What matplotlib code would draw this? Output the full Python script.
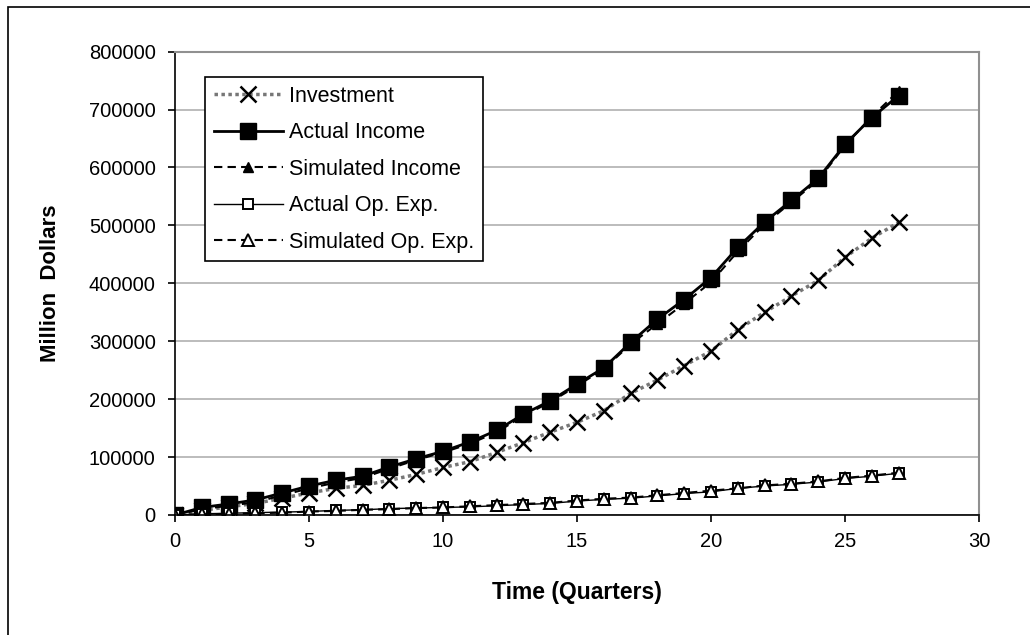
import numpy as np
import matplotlib.pyplot as plt
from matplotlib.patches import Rectangle

plt.rcParams['font.family'] = ['Liberation Sans', 'DejaVu Sans']

quarters = list(range(28))

investment = [0, 8000, 14000, 20000, 29000, 38000, 46000, 51000, 60000, 70000,
              82000, 92000, 108000, 125000, 143000, 160000, 180000, 210000,
              233000, 258000, 283000, 320000, 350000, 378000, 405000, 445000,
              478000, 505000]
actual_income = [0, 13000, 19000, 26000, 38000, 50000, 60000, 67000, 83000, 97000,
                 110000, 126000, 146000, 174000, 197000, 226000, 254000, 298000,
                 338000, 372000, 410000, 462000, 506000, 543000, 581000, 640000,
                 686000, 724000]
sim_income = [0, 10000, 16000, 22000, 34000, 46000, 56000, 64000, 80000, 95000,
              108000, 123000, 143000, 171000, 195000, 223000, 252000, 295000,
              330000, 365000, 402000, 455000, 502000, 540000, 578000, 638000,
              688000, 732000]
actual_opexp = [0, 2000, 3000, 4000, 5000, 6000, 8000, 9000, 11000, 12000,
                13000, 14000, 16000, 18000, 20000, 24000, 27000, 29000, 33000,
                37000, 40000, 46000, 50000, 53000, 57000, 63000, 67000, 72000]
sim_opexp = [0, 1000, 2000, 3000, 4000, 6000, 7000, 9000, 10000, 12000,
             13000, 15000, 17000, 19000, 21000, 25000, 28000, 30000, 34000,
             38000, 42000, 46000, 51000, 54000, 58000, 64000, 68000, 73000]

fig = plt.figure(figsize=(10.3, 6.35), dpi=100)
ax = fig.add_axes([0.170, 0.189, 0.7805, 0.7297])

# outer chart border
fig.patches.append(Rectangle((8 / 1030, -0.1), 1.2, (635 - 7) / 635 + 0.1,
                             transform=fig.transFigure, fill=False,
                             edgecolor='black', linewidth=1.2))

ax.plot(quarters, investment, color='#777777', lw=2.5, ls=(0, (1, 1)), marker='x',
        ms=11, mec='black', mew=1.8, label='Investment')
ax.plot(quarters, actual_income, color='black', lw=2.0, marker='s', ms=11,
        mfc='black', mec='black', label='Actual Income')
ax.plot(quarters, sim_income, color='black', lw=1.5, ls=(0, (4, 2.5)), marker='^',
        ms=7, mfc='black', mec='black', label='Simulated Income')
ax.plot(quarters, actual_opexp, color='black', lw=1.0, marker='s', ms=7,
        mfc='white', mec='black', mew=1.4, label='Actual Op. Exp.')
ax.plot(quarters, sim_opexp, color='black', lw=1.5, ls=(0, (4, 2.5)), marker='^',
        ms=9, mfc='white', mec='black', mew=1.4, label='Simulated Op. Exp.')

ax.set_xlim(0, 30)
ax.set_ylim(0, 800000)
ax.set_xticks(range(0, 31, 5))
ax.set_yticks(range(0, 800001, 100000))
ax.yaxis.grid(True, color='#b0b0b0', lw=1.2)
ax.set_axisbelow(True)
ax.tick_params(direction='out', length=5, width=1.2, labelsize=14.5, color='black')
ax.tick_params(axis='y', pad=9)
ax.tick_params(axis='x', pad=7)

for s in ['top', 'right']:
    ax.spines[s].set_color('#909090')
    ax.spines[s].set_linewidth(1.5)
for s in ['left', 'bottom']:
    ax.spines[s].set_color('black')
    ax.spines[s].set_linewidth(1.2)

ax.set_xlabel('Time (Quarters)', fontsize=16.5, fontweight='bold', labelpad=22)
ax.set_ylabel('Million  Dollars', fontsize=16, fontweight='bold', labelpad=20)

leg = ax.legend(loc='upper left', bbox_to_anchor=(205 / 1030, (635 - 77) / 635),
                bbox_transform=fig.transFigure, fontsize=15.5, fancybox=False,
                framealpha=1, edgecolor='black', handlelength=3.2,
                labelspacing=0.72, borderpad=0.4, borderaxespad=0,
                handletextpad=0.3)
leg.get_frame().set_linewidth(1.2)

plt.savefig('out.png', dpi=100)
